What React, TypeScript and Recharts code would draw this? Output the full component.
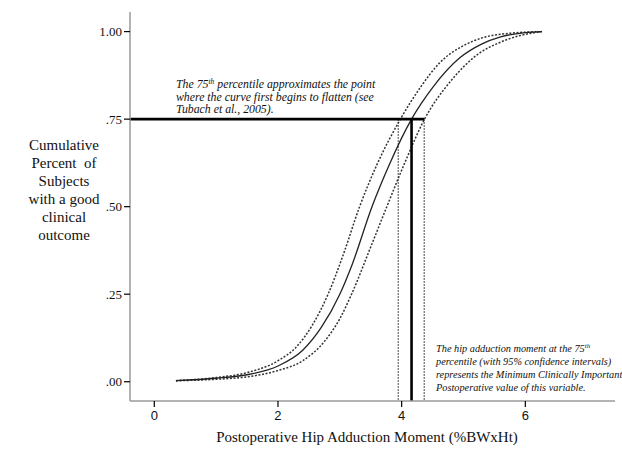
import { ComposedChart, Line, XAxis, YAxis, ReferenceLine } from "recharts";

// axis ranges as drawn (SPSS-style frame, no top/right border)
const X_DOMAIN = [-0.393, 7.45];
const Y_DOMAIN = [-0.055, 1.056];
const X_TICKS = [0, 2, 4, 6];
const Y_TICKS = [0, 0.25, 0.5, 0.75, 1];

// fitted curve
const midX = [0.35, 1.0, 1.5, 2.0, 2.4, 2.7, 3.0, 3.2, 3.52, 3.8, 4.16, 4.5, 4.94, 5.3, 5.6, 6.0, 6.27];
const midY = [0.003, 0.01, 0.02, 0.045, 0.09, 0.155, 0.25, 0.335, 0.5, 0.62, 0.75, 0.84, 0.925, 0.965, 0.985, 0.997, 1.0];

// upper 95% band (left curve)
const hiX = [0.35, 1.0, 1.5, 2.0, 2.3, 2.55, 2.81, 3.05, 3.32, 3.6, 3.98, 4.3, 4.61, 5.0, 5.3, 5.8, 6.27];
const hiY = [0.003, 0.012, 0.026, 0.06, 0.1, 0.16, 0.25, 0.36, 0.5, 0.62, 0.75, 0.84, 0.91, 0.96, 0.982, 0.996, 1.0];

// lower 95% band (right curve)
const loX = [0.35, 1.0, 1.5, 2.0, 2.4, 2.75, 3.0, 3.19, 3.5, 3.76, 4.05, 4.37, 4.8, 5.23, 5.6, 5.9, 6.27];
const loY = [0.003, 0.007, 0.014, 0.032, 0.06, 0.115, 0.18, 0.25, 0.385, 0.5, 0.625, 0.75, 0.86, 0.935, 0.97, 0.988, 1.0];

// 75th percentile cut-off with its confidence limits
const PCT = 0.75;
const MCID = 4.16;
const MCID_LO = 3.945;
const MCID_HI = 4.365;

const pts = (xs: number[], ys: number[]) => xs.map((x, i) => ({ x, y: ys[i] }));

const yFmt = (v: number) => v.toFixed(2).replace(/^0/, "");

const serif = "'Liberation Serif', 'Times New Roman', serif";

const yLabel = ["Cumulative", "Percent  of", "Subjects", "with a good", "clinical", "outcome"];

export default function App() {
  return (
    <div style={{ position: "absolute", left: 0, top: 0, width: 622, height: 449, background: "#fff" }}>
      <ComposedChart width={622} height={449} margin={{ top: 12, right: 7, bottom: 0, left: 0 }}>
        <XAxis
          type="number"
          dataKey="x"
          domain={X_DOMAIN}
          ticks={X_TICKS}
          allowDataOverflow
          height={48}
          axisLine={{ stroke: "#9a9a9a", strokeWidth: 1.5 }}
          tickLine={{ stroke: "#000", strokeWidth: 1.2 }}
          tickSize={6}
          tickMargin={4}
          tick={{ fill: "#111", fontSize: 13, fontFamily: "'Liberation Sans', Arial, sans-serif" }}
        />
        <YAxis
          type="number"
          dataKey="y"
          domain={Y_DOMAIN}
          ticks={Y_TICKS}
          allowDataOverflow
          width={130}
          axisLine={{ stroke: "#9a9a9a", strokeWidth: 1.5 }}
          tickLine={{ stroke: "#000", strokeWidth: 1.2 }}
          tickSize={6}
          tickMargin={2}
          tickFormatter={yFmt}
          tick={{ fill: "#111", fontSize: 13, fontFamily: serif }}
        />
        <ReferenceLine
          segment={[{ x: MCID_LO, y: PCT }, { x: MCID_LO, y: Y_DOMAIN[0] }]}
          stroke="#444"
          strokeWidth={1.3}
          strokeDasharray="1.5 1.5"
        />
        <ReferenceLine
          segment={[{ x: MCID_HI, y: PCT }, { x: MCID_HI, y: Y_DOMAIN[0] }]}
          stroke="#444"
          strokeWidth={1.3}
          strokeDasharray="1.5 1.5"
        />
        <Line
          data={pts(hiX, hiY)}
          dataKey="y"
          type="monotone"
          stroke="#333"
          strokeWidth={1.5}
          strokeDasharray="2 1.6"
          dot={false}
          isAnimationActive={false}
        />
        <Line
          data={pts(loX, loY)}
          dataKey="y"
          type="monotone"
          stroke="#333"
          strokeWidth={1.5}
          strokeDasharray="2 1.6"
          dot={false}
          isAnimationActive={false}
        />
        <Line
          data={pts(midX, midY)}
          dataKey="y"
          type="monotone"
          stroke="#222"
          strokeWidth={1.3}
          dot={false}
          isAnimationActive={false}
        />
        <ReferenceLine
          segment={[{ x: X_DOMAIN[0], y: PCT }, { x: MCID_HI, y: PCT }]}
          stroke="#000"
          strokeWidth={2.6}
        />
        <ReferenceLine
          segment={[{ x: MCID, y: PCT }, { x: MCID, y: Y_DOMAIN[0] }]}
          stroke="#000"
          strokeWidth={2.6}
        />
      </ComposedChart>

      <svg width={622} height={449} style={{ position: "absolute", left: 0, top: 0, pointerEvents: "none" }}>
        <g fontFamily={serif} fontSize={15} fill="#111" textAnchor="middle">
          {yLabel.map((t, i) => (
            <text key={t} x={64} y={150 + i * 18} style={{ whiteSpace: "pre" }}>
              {t}
            </text>
          ))}
          <text x={367} y={442}>Postoperative  Hip  Adduction  Moment  (%BWxHt)</text>
        </g>
        <g fontFamily={serif} fontStyle="italic" fill="#111">
          <g fontSize={11.8}>
            <text x={176} y={88}>
              The 75<tspan fontSize={7.5} dy={-4}>th</tspan>
              <tspan dy={4}> percentile approximates the point</tspan>
            </text>
            <text x={176} y={100.5}>where the curve first begins to flatten (see</text>
            <text x={176} y={113}>Tubach et al., 2005).</text>
          </g>
          <g fontSize={10.3}>
            <text x={436} y={352}>
              The hip adduction moment at the 75<tspan fontSize={7} dy={-4}>th</tspan>
            </text>
            <text x={436} y={365}>percentile (with 95% confidence intervals)</text>
            <text x={436} y={378}>represents the Minimum Clinically Important</text>
            <text x={436} y={391}>Postoperative value of this variable.</text>
          </g>
        </g>
      </svg>
    </div>
  );
}
